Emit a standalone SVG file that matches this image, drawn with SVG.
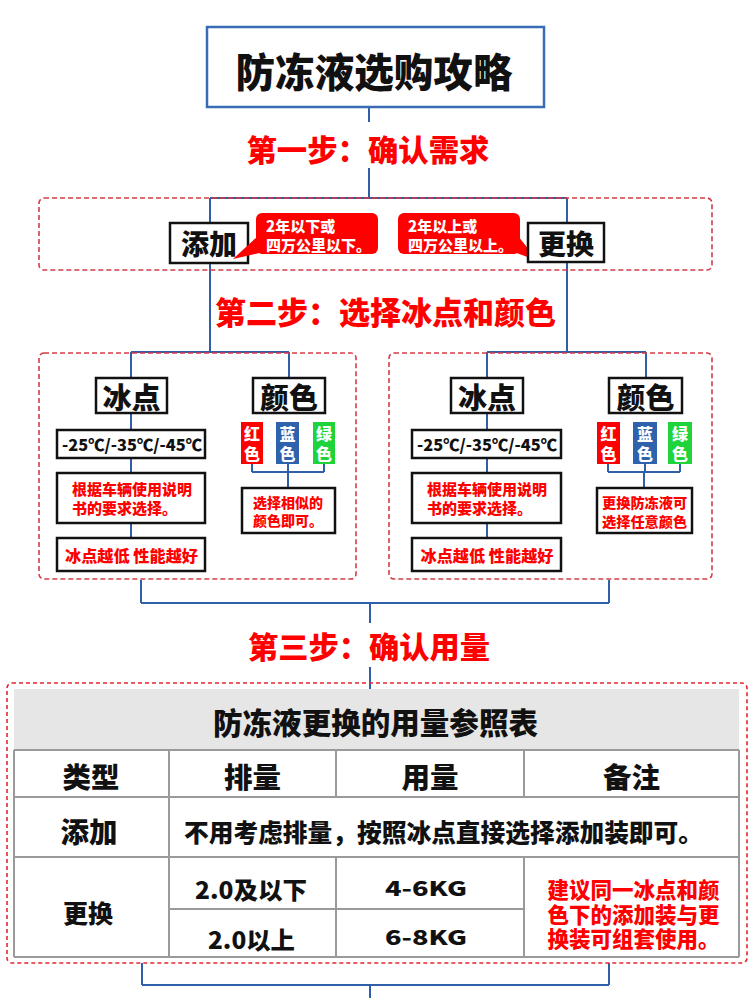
<svg xmlns="http://www.w3.org/2000/svg" width="750" height="998" viewBox="0 0 750 998">
<style>
text{font-family:"Noto Sans CJK SC","Noto Sans",sans-serif;font-weight:900;dominant-baseline:central}
.c{text-anchor:middle}
.s{text-anchor:start}
.step{fill:#ff0000}
.blk{fill:#111}
.red{fill:#f00}
.wht{fill:#fff}
.bx{fill:#fff;stroke:#111;stroke-width:2.5}
.dash{fill:none;stroke:#d43c46;stroke-width:1.6;stroke-dasharray:5 3}
.conn{fill:none;stroke:#2f5fa8;stroke-width:2}
.grid{stroke:#9a9a9a;stroke-width:2;fill:none}
</style>
<rect width="750" height="998" fill="#fff"/>

<g id="connectors" class="conn">
<path d="M369 107V122M369 168V198M210 198H567M210 198V352M567 198V352"/>
<path d="M131 352H289M131 352V378M289 352V378M131 413V430M131 458V473M131 523V538M252 464V472M288 464V472M324 464V472M252 472H324M288 472V488"/>
<path d="M487 352H646M487 352V378M646 352V378M487 413V430M487 458V473M487 523V538M608 464V472M645 464V472M680 464V472M608 472H680M644 472V488"/>
<path d="M141 580V603M609 580V603M141 603H609M370 603V623M370 667V689"/>
<path d="M142 963V985M609 963V985M142 985H609M370 985V998"/>
</g>

<g id="title">
<rect x="207" y="27" width="337" height="80" fill="#fff" stroke="#3a6cb5" stroke-width="2.5"/>
<text class="c blk" x="374" y="70" font-size="40" textLength="277" lengthAdjust="spacingAndGlyphs">防冻液选购攻略</text>
</g>

<g id="step1">
<text class="c step" x="368" y="148" font-size="30" textLength="243" lengthAdjust="spacingAndGlyphs">第一步：确认需求</text>
</g>

<g id="need-panel">
<rect class="dash" x="39" y="198" width="673" height="72" rx="5"/>
</g>

<g id="add-box">
<rect class="bx" x="170" y="223" width="78" height="40"/>
<text class="c blk" x="209" y="243" font-size="28" textLength="56" lengthAdjust="spacingAndGlyphs">添加</text>
</g>

<g id="add-note">
<path d="M258 236L264 252L233 259Z" fill="#f00"/>
<rect x="256" y="213" width="122" height="41" rx="6" fill="#f00"/>
<text class="s wht" font-size="15"><tspan x="266" y="225">2年以下或</tspan><tspan x="266" y="243.5">四万公里以下。</tspan></text>
</g>

<g id="replace-note">
<path d="M518 236L514 252L538 261Z" fill="#f00"/>
<rect x="398" y="213" width="122" height="41" rx="6" fill="#f00"/>
<text class="s wht" font-size="15"><tspan x="408" y="225">2年以上或</tspan><tspan x="408" y="243.5">四万公里以上。</tspan></text>
</g>

<g id="replace-box">
<rect class="bx" x="528" y="223" width="76" height="39"/>
<text class="c blk" x="566" y="243" font-size="28" textLength="56" lengthAdjust="spacingAndGlyphs">更换</text>
</g>

<g id="step2">
<text class="c step" x="385.5" y="310" font-size="31" textLength="341" lengthAdjust="spacingAndGlyphs">第二步：选择冰点和颜色</text>
</g>

<g id="left-panel">
<rect class="dash" x="39" y="353" width="317" height="226" rx="5"/>
</g>
<g id="left-freeze">
<rect class="bx" x="96" y="378" width="71" height="35"/>
<text class="c blk" x="131.5" y="396" font-size="29" textLength="58" lengthAdjust="spacingAndGlyphs">冰点</text>
</g>
<g id="left-temp">
<rect class="bx" x="57" y="430" width="148" height="28"/>
<text class="c blk" x="132" y="444" font-size="16" textLength="140" lengthAdjust="spacingAndGlyphs">-25℃/-35℃/-45℃</text>
</g>
<g id="left-manual">
<rect class="bx" x="57" y="473" width="148" height="50"/>
<text class="s red" font-size="15"><tspan x="72" y="488">根据车辆使用说明</tspan><tspan x="72" y="507">书的要求选择。</tspan></text>
</g>
<g id="left-lower">
<rect class="bx" x="57" y="538" width="148" height="33"/>
<text class="c red" x="131.5" y="555" font-size="15.5" textLength="133" lengthAdjust="spacingAndGlyphs">冰点越低 性能越好</text>
</g>
<g id="left-color">
<rect class="bx" x="253" y="378" width="72" height="35"/>
<text class="c blk" x="289" y="396" font-size="29" textLength="58" lengthAdjust="spacingAndGlyphs">颜色</text>
</g>
<g id="left-swatches">
<rect x="241" y="422" width="22" height="42" fill="#f00"/>
<text class="c wht" font-size="16"><tspan x="252" y="433">红</tspan><tspan x="252" y="453">色</tspan></text>
<rect x="276" y="422" width="23" height="42" fill="#2e62ad"/>
<text class="c wht" font-size="16"><tspan x="287.5" y="433">蓝</tspan><tspan x="287.5" y="453">色</tspan></text>
<rect x="313" y="422" width="22" height="42" fill="#1fd43a"/>
<text class="c wht" font-size="16"><tspan x="324" y="433">绿</tspan><tspan x="324" y="453">色</tspan></text>
</g>
<g id="left-similar">
<rect class="bx" x="242" y="488" width="93" height="45"/>
<text class="s red" font-size="14"><tspan x="253" y="502">选择相似的</tspan><tspan x="253" y="520">颜色即可。</tspan></text>
</g>

<g id="right-panel">
<rect class="dash" x="389" y="353" width="323" height="226" rx="5"/>
</g>
<g id="right-freeze">
<rect class="bx" x="451" y="378" width="72" height="35"/>
<text class="c blk" x="487" y="396" font-size="29" textLength="58" lengthAdjust="spacingAndGlyphs">冰点</text>
</g>
<g id="right-temp">
<rect class="bx" x="412" y="430" width="149" height="28"/>
<text class="c blk" x="487" y="444" font-size="16" textLength="140" lengthAdjust="spacingAndGlyphs">-25℃/-35℃/-45℃</text>
</g>
<g id="right-manual">
<rect class="bx" x="412" y="473" width="149" height="50"/>
<text class="s red" font-size="15"><tspan x="427" y="488">根据车辆使用说明</tspan><tspan x="427" y="507">书的要求选择。</tspan></text>
</g>
<g id="right-lower">
<rect class="bx" x="412" y="538" width="149" height="33"/>
<text class="c red" x="487" y="555" font-size="15.5" textLength="133" lengthAdjust="spacingAndGlyphs">冰点越低 性能越好</text>
</g>
<g id="right-color">
<rect class="bx" x="609" y="378" width="73" height="35"/>
<text class="c blk" x="645.5" y="396" font-size="29" textLength="58" lengthAdjust="spacingAndGlyphs">颜色</text>
</g>
<g id="right-swatches">
<rect x="597" y="422" width="23" height="42" fill="#f00"/>
<text class="c wht" font-size="16"><tspan x="608.5" y="433">红</tspan><tspan x="608.5" y="453">色</tspan></text>
<rect x="633" y="422" width="24" height="42" fill="#2e62ad"/>
<text class="c wht" font-size="16"><tspan x="645" y="433">蓝</tspan><tspan x="645" y="453">色</tspan></text>
<rect x="668" y="422" width="24" height="42" fill="#1fd43a"/>
<text class="c wht" font-size="16"><tspan x="680" y="433">绿</tspan><tspan x="680" y="453">色</tspan></text>
</g>
<g id="right-any">
<rect class="bx" x="597" y="488" width="95" height="45"/>
<text class="s red" font-size="14.2"><tspan x="602" y="502">更换防冻液可</tspan><tspan x="602" y="521">选择任意颜色</tspan></text>
</g>

<g id="step3">
<text class="c step" x="369" y="645" font-size="30" textLength="242" lengthAdjust="spacingAndGlyphs">第三步：确认用量</text>
</g>

<g id="usage-table">
<rect x="7" y="683" width="740" height="280" rx="5" fill="none" stroke="#e8262e" stroke-width="1.6" stroke-dasharray="4 3"/>
<rect x="14" y="689" width="725" height="61" fill="#e6e6e6"/>
<rect x="14" y="750" width="725" height="207" fill="#fff"/>
<path class="grid" d="M14 750H739M14 797H739M14 857H739M14 957H739M169 909H524M14 750V957M739 750V957M169 750V957M336 750V797M524 750V797M336 857V957M524 857V957"/>
<text class="c blk" x="375.5" y="720.5" font-size="29.5" textLength="325" lengthAdjust="spacingAndGlyphs">防冻液更换的用量参照表</text>
<text class="c blk" x="91" y="775" font-size="28.5" textLength="57" lengthAdjust="spacingAndGlyphs">类型</text>
<text class="c blk" x="252.5" y="775" font-size="28.5" textLength="57" lengthAdjust="spacingAndGlyphs">排量</text>
<text class="c blk" x="430" y="775" font-size="28.5" textLength="57" lengthAdjust="spacingAndGlyphs">用量</text>
<text class="c blk" x="631.5" y="775" font-size="28.5" textLength="57" lengthAdjust="spacingAndGlyphs">备注</text>
<text class="c blk" x="89" y="830" font-size="28.5" textLength="57" lengthAdjust="spacingAndGlyphs">添加</text>
<text class="c blk" x="443.5" y="831" font-size="24.5" textLength="519" lengthAdjust="spacingAndGlyphs">不用考虑排量，按照冰点直接选择添加装即可。</text>
<text class="c blk" x="88" y="912" font-size="25" textLength="50" lengthAdjust="spacingAndGlyphs">更换</text>
<text class="c blk" x="251" y="888" font-size="24" textLength="112" lengthAdjust="spacingAndGlyphs">2.0及以下</text>
<text class="c blk" x="251.5" y="938" font-size="24" textLength="87" lengthAdjust="spacingAndGlyphs">2.0以上</text>
<text class="c blk" x="426" y="887" font-size="20" textLength="82" lengthAdjust="spacingAndGlyphs">4-6KG</text>
<text class="c blk" x="426" y="936" font-size="20" textLength="82" lengthAdjust="spacingAndGlyphs">6-8KG</text>
<text class="c red" font-size="21.5"><tspan x="633.5" y="888">建议同一冰点和颜</tspan><tspan x="633.5" y="913">色下的添加装与更</tspan><tspan x="633.5" y="937">换装可组套使用。</tspan></text>
</g>
</svg>
